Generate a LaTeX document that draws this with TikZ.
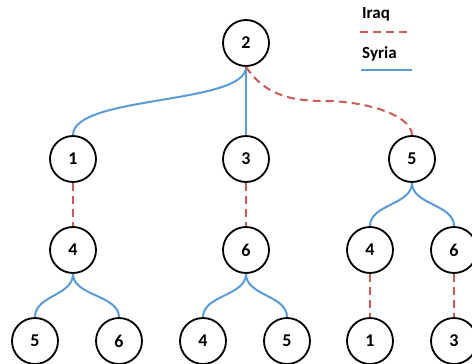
\documentclass[tikz,border=0pt]{standalone}
\usepackage{fontspec}
\setmainfont{Carlito}
\begin{document}
\begin{tikzpicture}[x=1pt,y=-1pt,
  vertex/.style={circle,draw=black,line width=1.8pt,minimum size=46pt,inner sep=0pt,
    font=\fontsize{18}{21}\selectfont\bfseries},
  iraq/.style={draw=iraqred,line width=2pt,dash pattern=on 8pt off 5pt},
  syria/.style={draw=syriablue,line width=2pt},
  legendtext/.style={anchor=west,inner sep=0pt,font=\fontsize{17}{20}\selectfont\bfseries}]
\definecolor{iraqred}{RGB}{204,92,86}
\definecolor{syriablue}{RGB}{91,155,213}
\useasboundingbox (0,0) rectangle (472,364);

% tree nodes
\node[vertex] (r)  at (246,43)  {2};
\node[vertex] (a)  at (73,159)  {1};
\node[vertex] (b)  at (246,159) {3};
\node[vertex] (c)  at (412,159) {5};
\node[vertex] (a1) at (73,250)  {4};
\node[vertex] (b1) at (246,250) {6};
\node[vertex] (c1) at (370,250) {4};
\node[vertex] (c2) at (454,250) {6};
\node[vertex] (a11) at (35,341)  {5};
\node[vertex] (a12) at (119,341) {6};
\node[vertex] (b11) at (203,341) {4};
\node[vertex] (b12) at (287,341) {5};
\node[vertex] (c11) at (370,341) {1};
\node[vertex] (c21) at (454,341) {3};

% first level
\draw[syria] (a.north) .. controls +(0,-40) and +(0,38) .. (r.south);
\draw[syria] (r.south) -- (b.north);
\draw[iraq] (r.south) .. controls +(20,30) and +(-30,0) .. (325,101)
  .. controls +(40,0) and +(0,-20) .. (c.north);

% second level
\draw[iraq] (a.south) -- (a1.north);
\draw[iraq] (b.south) -- (b1.north);
\draw[syria] (c.south) .. controls +(0,22) and +(0,-22) .. (c1.north);
\draw[syria] (c.south) .. controls +(0,22) and +(0,-22) .. (c2.north);

% third level
\draw[syria] (a1.south) .. controls +(0,22) and +(0,-22) .. (a11.north);
\draw[syria] (a1.south) .. controls +(0,22) and +(0,-22) .. (a12.north);
\draw[syria] (b1.south) .. controls +(0,22) and +(0,-22) .. (b11.north);
\draw[syria] (b1.south) .. controls +(0,22) and +(0,-22) .. (b12.north);
\draw[iraq] (c1.south) -- (c11.north);
\draw[iraq] (c2.south) -- (c21.north);

% legend
\node[legendtext] (liraq) at (362,14) {Iraq};
\coordinate (li1) at (360,32);
\coordinate (li2) at (407,32);
\draw[iraq] (li1) -- (li2);
\node[legendtext] (lsyria) at (362,54) {Syria};
\coordinate (ls1) at (361,70);
\coordinate (ls2) at (412,70);
\draw[syria] (ls1) -- (ls2);
\end{tikzpicture}
\end{document}
